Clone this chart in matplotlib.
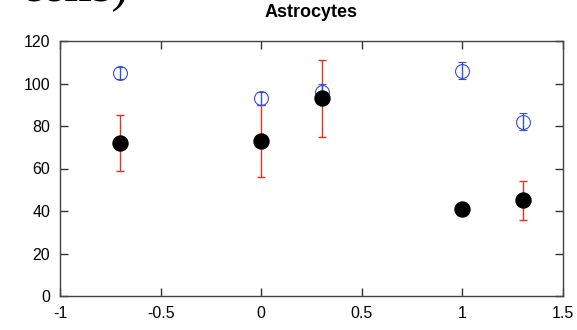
import matplotlib
matplotlib.use("Agg")
import matplotlib.pyplot as plt

# condition positions and values
x = [-0.7, 0.0, 0.3, 1.0, 1.3]
open_vals = [105, 93, 96, 106, 82]
open_err = [3, 3, 4, 4, 4]
filled_vals = [72, 73, 93, 41, 45]
filled_err = [13, 17, 18, 2, 9]

xticks = [-1, -0.5, 0, 0.5, 1, 1.5]
xticklabels = ["-1", "-0.5", "0", "0.5", "1", "1.5"]
yticks = [0, 20, 40, 60, 80, 100, 120]

plt.rcParams['font.family'] = ['Liberation Sans', 'DejaVu Sans']

fig = plt.figure(figsize=(5.77, 3.30), dpi=100)
ax = fig.add_axes([60 / 577, 34 / 330, 503 / 577, 255 / 330])

# red error bars for the filled series
ax.errorbar(x, filled_vals, yerr=filled_err, fmt='none', ecolor='#e8321e',
            elinewidth=1.0, capsize=3, capthick=1.0, zorder=2)
# open blue circles with their own error bars
ax.errorbar(x, open_vals, yerr=open_err, fmt='o', color='#3050e0',
            mfc='none', mec='#3050e0', ms=10, mew=0.8,
            elinewidth=1.0, capsize=3, capthick=1.0, zorder=3)
# filled black markers on top
ax.plot(x, filled_vals, 'o', color='black', ms=10.8, zorder=4)

ax.set_xlim(-1, 1.5)
ax.set_ylim(0, 120)
ax.set_xticks(xticks)
ax.set_xticklabels(xticklabels)
ax.set_yticks(yticks)
ax.tick_params(direction='in', top=True, right=True, length=6, width=1,
               color='#333333', labelsize=11.5, pad=7)
for s in ax.spines.values():
    s.set_linewidth(1.0)
    s.set_color('#444444')

ax.set_title("Astrocytes", fontsize=13, fontweight='bold', pad=17)

# leftover caption from the page, cut off at the top
fig.text(128 / 577, 1 - 1 / 330, "cells)", family='Liberation Serif',
         fontsize=36, ha='right', va='baseline')

fig.savefig("out.png", dpi=100)
